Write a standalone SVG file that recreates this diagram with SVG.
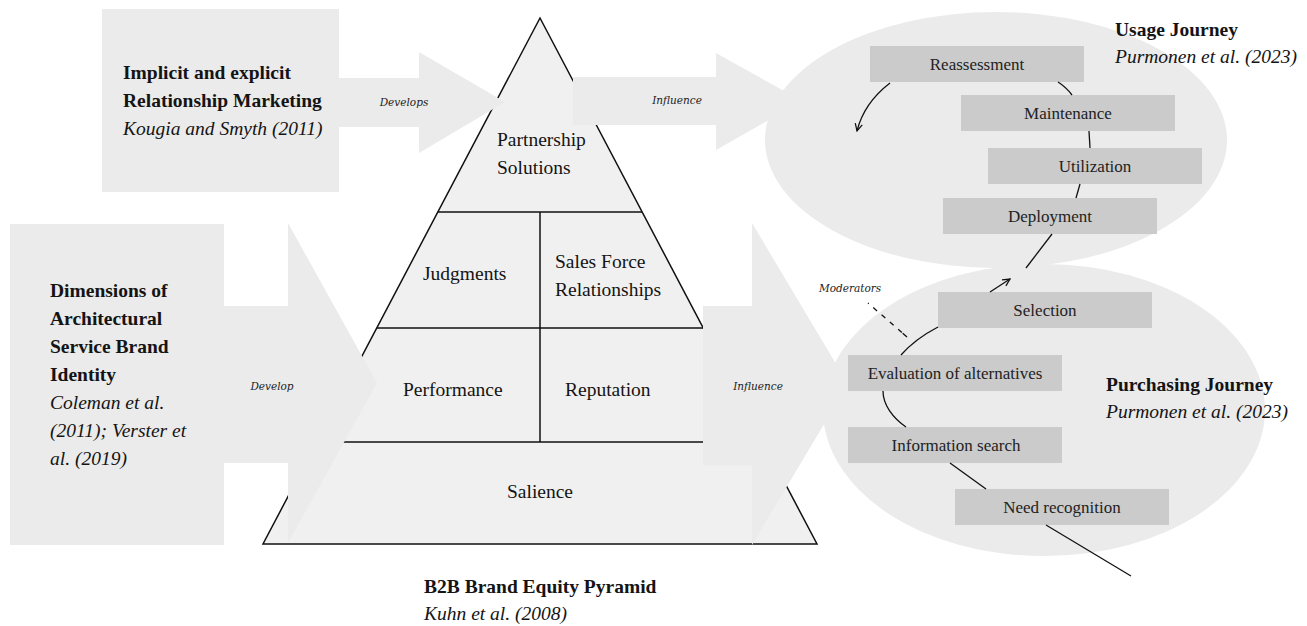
<svg xmlns="http://www.w3.org/2000/svg" width="1307" height="626" viewBox="0 0 1307 626">
  <style>
    .panel { fill: #ebebeb; }
    .pyr { fill: #f0f0f0; stroke: #111; stroke-width: 1.5; }
    .pline { stroke: #111; stroke-width: 1.5; fill: none; }
    .step { fill: #cbcbcb; }
    .t { font-family: "Liberation Serif", "Times New Roman", serif; font-size: 19.5px; fill: #141414; }
    .b { font-weight: bold; }
    .i { font-style: italic; }
    .lbl { font-family: "Liberation Serif", "Times New Roman", serif; font-size: 17px; fill: #222; text-anchor: middle; }
    .small { font-family: "DejaVu Serif", serif; font-style: italic; font-size: 10.5px; fill: #222; }
    .conn { stroke: #111; stroke-width: 1.3; fill: none; }
  </style>
  <defs>
    <marker id="open" viewBox="0 0 10 10" refX="9" refY="5" markerWidth="9" markerHeight="9" markerUnits="userSpaceOnUse" orient="auto">
      <path d="M1,1 L9,5 L1,9" fill="none" stroke="#111" stroke-width="1.4"/>
    </marker>
  </defs>

  <!-- pyramid -->
  <g id="pyramid">
    <polygon class="pyr" points="540,18 263,544 817,544"/>
    <line class="pline" x1="438" y1="212" x2="642" y2="212"/>
    <line class="pline" x1="377" y1="328" x2="703" y2="328"/>
    <line class="pline" x1="317" y1="442" x2="763" y2="442"/>
    <line class="pline" x1="540" y1="212" x2="540" y2="442"/>
    <text class="t" x="497" y="146">Partnership</text>
    <text class="t" x="497" y="174">Solutions</text>
    <text class="t" x="423" y="280">Judgments</text>
    <text class="t" x="555" y="268">Sales Force</text>
    <text class="t" x="555" y="296">Relationships</text>
    <text class="t" x="403" y="396">Performance</text>
    <text class="t" x="565" y="396">Reputation</text>
    <text class="t" x="540" y="498" text-anchor="middle">Salience</text>
  </g>

  <!-- block arrows -->
  <g id="arrows">
    <polygon id="arrow-develops" class="panel" points="338,78 419,78 419,52 505,102 419,153 419,127 338,127"/>
    <polygon id="arrow-influence-top" class="panel" points="573,77 716,77 716,53 802,101 716,150 716,125 573,125"/>
    <polygon id="arrow-develop" class="panel" points="224,306 288,306 288,223 377,383 288,543 288,463 224,463"/>
    <polygon id="arrow-influence-low" class="panel" points="703,306 752,306 752,223 848,384 752,545 752,465 703,465"/>
    <text class="small" x="404" y="106" text-anchor="middle">Develops</text>
    <text class="small" x="677" y="104" text-anchor="middle">Influence</text>
    <text class="small" x="272" y="390" text-anchor="middle">Develop</text>
    <text class="small" x="758" y="390" text-anchor="middle">Influence</text>
  </g>

  <!-- source boxes -->
  <g id="relationship-marketing">
    <rect class="panel" x="102" y="9" width="237" height="183"/>
    <text class="t b" x="123" y="79">Implicit and explicit</text>
    <text class="t b" x="123" y="107">Relationship Marketing</text>
    <text class="t i" x="123" y="135">Kougia and Smyth (2011)</text>
  </g>

  <g id="brand-identity">
    <rect class="panel" x="10" y="224" width="214" height="321"/>
    <text class="t b" x="50" y="297">Dimensions of</text>
    <text class="t b" x="50" y="325">Architectural</text>
    <text class="t b" x="50" y="353">Service Brand</text>
    <text class="t b" x="50" y="381">Identity</text>
    <text class="t i" x="50" y="409">Coleman et al.</text>
    <text class="t i" x="50" y="437">(2011); Verster et</text>
    <text class="t i" x="50" y="465">al. (2019)</text>
  </g>

  <!-- journeys -->
  <g id="usage-journey">
    <ellipse class="panel" cx="996" cy="140" rx="231" ry="128"/>
    <text class="t b" x="1115" y="36">Usage Journey</text>
    <text class="t i" x="1115" y="63">Purmonen et al. (2023)</text>
  </g>
  <g id="purchasing-journey">
    <ellipse class="panel" cx="1044" cy="410" rx="221" ry="146"/>
    <text class="t b" x="1106" y="391">Purchasing Journey</text>
    <text class="t i" x="1106" y="418">Purmonen et al. (2023)</text>
  </g>

  <g id="reassessment"><rect class="step" x="870" y="46" width="214" height="36"/><text class="lbl" x="977" y="70">Reassessment</text></g>
  <g id="maintenance"><rect class="step" x="961" y="95" width="214" height="36"/><text class="lbl" x="1068" y="119">Maintenance</text></g>
  <g id="utilization"><rect class="step" x="988" y="148" width="214" height="36"/><text class="lbl" x="1095" y="172">Utilization</text></g>
  <g id="deployment"><rect class="step" x="943" y="198" width="214" height="36"/><text class="lbl" x="1050" y="222">Deployment</text></g>
  <g id="selection"><rect class="step" x="938" y="292" width="214" height="36"/><text class="lbl" x="1045" y="316">Selection</text></g>
  <g id="evaluation"><rect class="step" x="848" y="355" width="214" height="36"/><text class="lbl" x="955" y="379">Evaluation of alternatives</text></g>
  <g id="information-search"><rect class="step" x="848" y="427" width="214" height="36"/><text class="lbl" x="956" y="451">Information search</text></g>
  <g id="need-recognition"><rect class="step" x="955" y="489" width="214" height="36"/><text class="lbl" x="1062" y="513">Need recognition</text></g>

  <!-- journey path -->
  <g id="connectors">
    <path class="conn" d="M890,83 Q864,103 857,131" marker-end="url(#open)"/>
    <path class="conn" d="M1058,82 Q1066,87 1072,95"/>
    <path class="conn" d="M1089,131 L1090,148"/>
    <path class="conn" d="M1080,184 L1076,198"/>
    <path class="conn" d="M1052,234 L1026,268"/>
    <path class="conn" d="M990,292 L1010,279" marker-end="url(#open)"/>
    <path class="conn" d="M938,327 Q915,339 901,355"/>
    <path class="conn" d="M883,391 C883,405 893,418 906,427"/>
    <path class="conn" d="M950,463 L986,489"/>
    <path class="conn" d="M1046,525 L1131,576"/>
    <path class="conn" d="M868,303 L907,337" stroke-dasharray="1 6 5 6 5 6 5 6 5"/>
    <text class="small" x="850" y="292" text-anchor="middle">Moderators</text>
  </g>

  <!-- caption -->
  <g id="caption">
    <text class="t b" x="424" y="593">B2B Brand Equity Pyramid</text>
    <text class="t i" x="424" y="620">Kuhn et al. (2008)</text>
  </g>
</svg>
